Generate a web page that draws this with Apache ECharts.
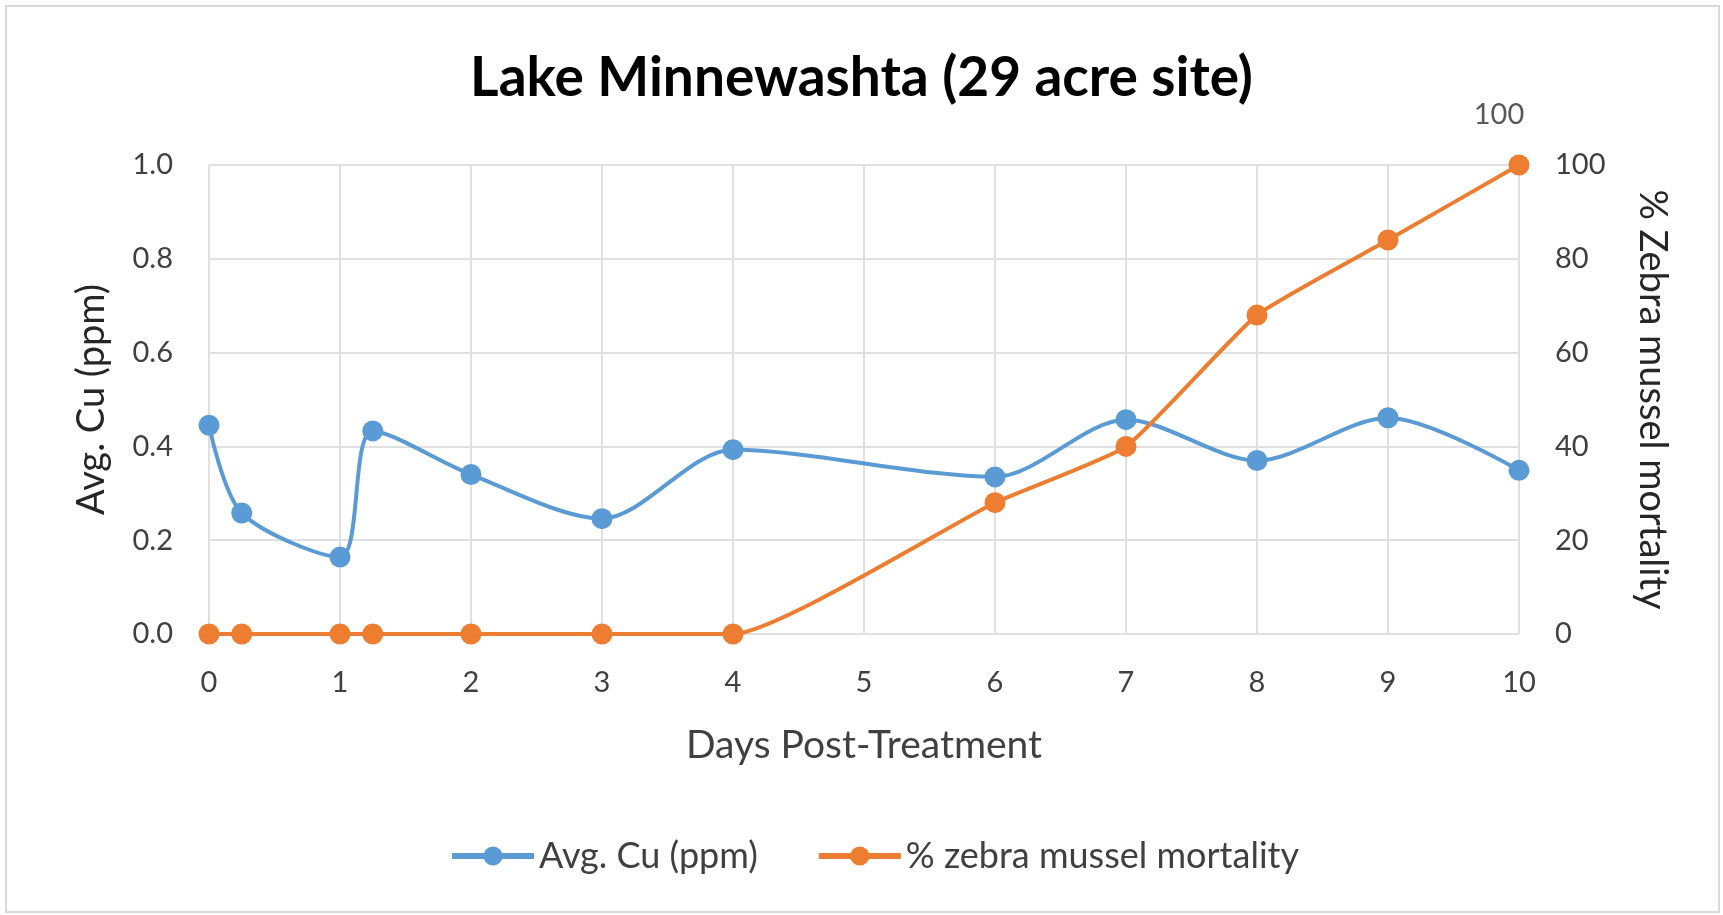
<!DOCTYPE html>
<html lang="en">
<head>
    <meta charset="UTF-8">
    <title>Lake Minnewashta (29 acre site)</title>
    <script src="https://cdn.jsdelivr.net/npm/echarts@6/dist/echarts.min.js"></script>
    <style>
        html, body { margin: 0; padding: 0; background: #fff; }
        #chart { width: 1723px; height: 915px; }
    </style>
</head>
<body>
<div id="chart"></div>
<script>
    // days post-treatment (value axis, not evenly spaced samples)
    const days = [0, 0.25, 1, 1.25, 2, 3, 4, 6, 7, 8, 9, 10];
    const avgCu = [0.445, 0.258, 0.164, 0.433, 0.34, 0.246, 0.393, 0.335, 0.457, 0.37, 0.461, 0.349];
    const mortality = [0, 0, 0, 0, 0, 0, 0, 28, 40, 68, 84, 100];

    const FONT = 'Lato';
    const BLUE = '#5B9BD5';
    const ORANGE = '#ED7D31';

    const chart = echarts.init(document.getElementById('chart'));

    chart.setOption({
        animation: false,
        title: {
            text: 'Lake Minnewashta (29 acre site)',
            left: 'center',
            top: 46,
            textStyle: { fontFamily: FONT, fontWeight: 'bold', fontSize: 55, color: '#000' }
        },
        grid: { left: 209, right: 204, top: 165, bottom: 281 },
        legend: {
            bottom: 36,
            left: 444,
            itemWidth: 82,
            itemHeight: 24,
            itemGap: 58,
            textStyle: { fontFamily: FONT, fontSize: 36, color: '#404040' },
            data: [
                { name: 'Avg. Cu (ppm)', lineStyle: { width: 6 } },
                { name: '% zebra mussel mortality', lineStyle: { width: 6 } }
            ]
        },
        xAxis: {
            type: 'value',
            min: 0, max: 10, interval: 1,
            name: 'Days Post-Treatment',
            nameLocation: 'middle',
            nameGap: 92,
            nameTextStyle: { fontFamily: FONT, fontSize: 39, color: '#404040' },
            axisLine: { show: false },
            axisTick: { show: false },
            axisLabel: { fontFamily: FONT, fontSize: 29, color: '#404040', margin: 34 },
            splitLine: { show: true, lineStyle: { color: '#e0e0e0', width: 2 } }
        },
        yAxis: [{
            type: 'value',
            min: 0, max: 1, interval: 0.2,
            name: 'Avg. Cu (ppm)',
            nameLocation: 'middle',
            nameGap: 98,
            nameTextStyle: { fontFamily: FONT, fontSize: 38, color: '#262626' },
            axisLine: { show: false },
            axisTick: { show: false },
            axisLabel: { fontFamily: FONT, fontSize: 29, color: '#404040', margin: 36,
                formatter: v => v.toFixed(1) },
            splitLine: { show: true, lineStyle: { color: '#e0e0e0', width: 2 } }
        }, {
            type: 'value',
            min: 0, max: 100, interval: 20,
            name: '% Zebra mussel mortality',
            nameLocation: 'middle',
            nameGap: 114,
            nameRotate: -90,
            nameTextStyle: { fontFamily: FONT, fontSize: 38, color: '#262626' },
            axisLine: { show: false },
            axisTick: { show: false },
            axisLabel: { fontFamily: FONT, fontSize: 29, color: '#404040', margin: 36 },
            splitLine: { show: false }
        }],
        series: [{
            name: 'Avg. Cu (ppm)',
            type: 'line',
            yAxisIndex: 0,
            smooth: 0.3,
            symbol: 'circle',
            symbolSize: 21,
            lineStyle: { color: BLUE, width: 4 },
            itemStyle: { color: BLUE },
            data: days.map((d, i) => [d, avgCu[i]])
        }, {
            name: '% zebra mussel mortality',
            type: 'line',
            yAxisIndex: 1,
            smooth: 0.15,
            symbol: 'circle',
            symbolSize: 21,
            lineStyle: { color: ORANGE, width: 4 },
            itemStyle: { color: ORANGE },
            data: days.map((d, i) => {
                const p = { value: [d, mortality[i]] };
                if (i === days.length - 1) {
                    p.label = {
                        show: true,
                        position: 'top',
                        offset: [-20, -20],
                        fontFamily: FONT,
                        fontSize: 29,
                        color: '#595959',
                        formatter: '{@[1]}'
                    };
                    p.labelLine = { show: true, lineStyle: { color: '#d0d0d0', width: 1.5 } };
                }
                return p;
            })
        }],
        graphic: [{
            type: 'rect',
            shape: { x: 6, y: 6, width: 1713, height: 906 },
            style: { fill: 'none', stroke: '#d9d9d9', lineWidth: 2 },
            silent: true
        }]
    });
</script>
</body>
</html>
